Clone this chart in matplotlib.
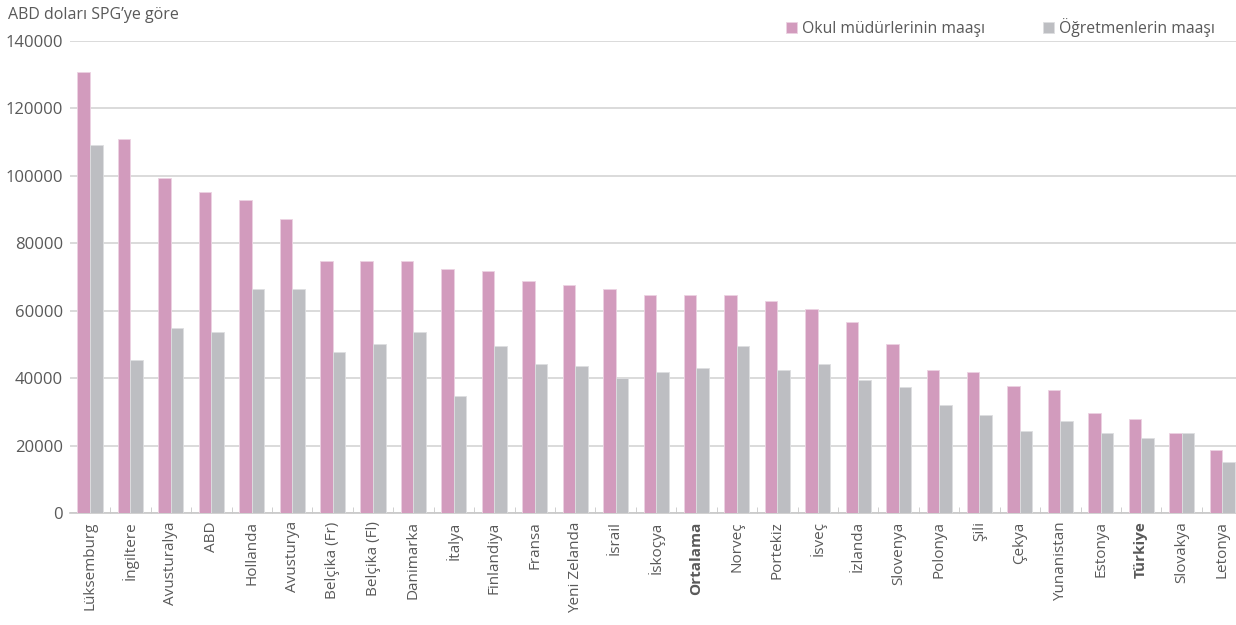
import matplotlib
matplotlib.use("Agg")
import matplotlib.pyplot as plt
import numpy as np

# category labels (left to right)
countries = ["Lüksemburg", "İngiltere", "Avusturalya", "ABD", "Hollanda", "Avusturya",
             "Belçika (Fr)", "Belçika (Fl)", "Danimarka", "İtalya", "Finlandiya", "Fransa",
             "Yeni Zelanda", "İsrail", "İskoçya", "Ortalama", "Norveç", "Portekiz", "İsveç",
             "İzlanda", "Slovenya", "Polonya", "Şili", "Çekya", "Yunanistan", "Estonya",
             "Türkiye", "Slovakya", "Letonya"]

# school principals' salaries (USD PPP)
principals = [130800, 110800, 99400, 95200, 92800, 87300, 74800, 74800, 74800, 72400,
              71800, 68900, 67700, 66500, 64600, 64600, 64600, 62800, 60400, 56800,
              50200, 42400, 41800, 37800, 36600, 29600, 27800, 23600, 18700]

# teachers' salaries (USD PPP)
teachers = [109100, 45400, 55000, 53800, 66400, 66400, 47800, 50200, 53800, 34600,
            49600, 44300, 43700, 40100, 41800, 43100, 49600, 42500, 44300, 39400,
            37500, 32000, 29000, 24200, 27200, 23600, 22300, 23600, 15100]

bold_labels = ["Ortalama", "Türkiye"]

pink = "#d29bbd"
grey = "#bdbec2"
text_col = "#595959"

plt.rcParams["font.family"] = ["Open Sans", "DejaVu Sans"]

fig = plt.figure(figsize=(12.36, 6.25), dpi=100)
ax = fig.add_axes([69.8 / 1236, 112 / 625, (1236 - 69.8) / 1236, 472 / 625])

x = np.arange(len(countries))
w = 0.31
ax.bar(x - w / 2, principals, w, color=pink, edgecolor="#ecd3e2", linewidth=0.6, zorder=3,
       label="Okul müdürlerinin maaşı")
ax.bar(x + w / 2, teachers, w, color=grey, edgecolor="#dddee0", linewidth=0.6, zorder=3,
       label="Öğretmenlerin maaşı")

ax.set_xlim(-0.5, -0.5 + (1236 - 69.8) / 40.43)
ax.set_ylim(0, 140000)
ax.set_yticks(np.arange(0, 140001, 20000))
ax.yaxis.grid(True, color="#d4d4d4", linewidth=1.2, zorder=0)
ax.tick_params(axis="y", length=0, pad=5, labelsize=12, labelcolor=text_col)

ax.set_xticks(x)
ax.set_xticklabels(countries, rotation=90, fontsize=11, color=text_col)
for lbl in ax.get_xticklabels():
    if lbl.get_text() in bold_labels:
        lbl.set_fontweight("bold")
ax.tick_params(axis="x", which="major", length=0, pad=6)
ax.set_xticks(x[:-1] + 0.5, minor=True)
ax.tick_params(axis="x", which="minor", length=4, direction="in", color="#c8c8c8")

for s in ["top", "right", "left"]:
    ax.spines[s].set_visible(False)
ax.spines["bottom"].set_color("#c8c8c8")
ax.spines["bottom"].set_linewidth(1.2)

fig.text(8 / 1236, 1 - 15 / 625, "ABD doları SPG’ye göre", fontsize=11.5, color=text_col,
         va="center", ha="left")

fig.legend(loc="upper left", bbox_to_anchor=(772 / 1236, 1 - 4 / 625), ncol=2,
           frameon=False, fontsize=11.3, labelcolor=text_col, handlelength=0.7,
           handleheight=0.7, handletextpad=0.3, columnspacing=3.7)

fig.savefig("out.png", dpi=100)
